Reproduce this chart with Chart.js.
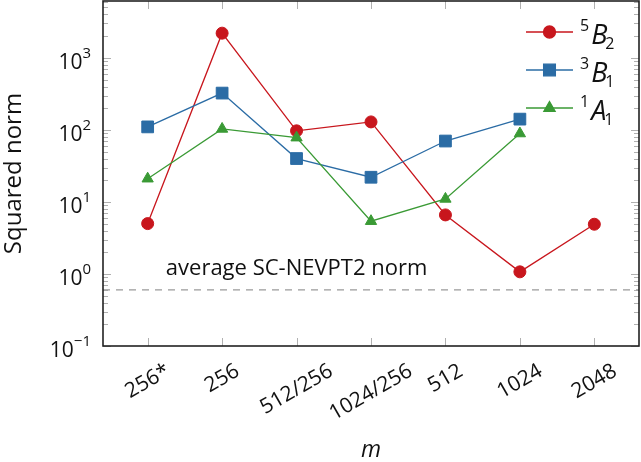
<!DOCTYPE html>
<html>
<head>
<meta charset="utf-8">
<script src="https://cdn.jsdelivr.net/npm/chart.js@4/dist/chart.umd.min.js"></script>
<style>
  html, body { margin: 0; padding: 0; background: #fff; }
  #wrap { width: 641px; height: 462px; }
</style>
</head>
<body>
<div id="wrap"><canvas id="chart"></canvas></div>
<script>
// values
const categories = ["256*", "256", "512/256", "1024/256", "512", "1024", "2048"];
const b2Values = [5.0, 2200, 97, 129, 6.6, 1.07, 4.9];
const b1Values = [110, 324, 40, 22, 70, 141, null];
const a1Values = [21, 103, 78, 5.4, 11, 89, null];
const avgNorm = 0.6;
const yTickValues = [0.1, 1, 10, 100, 1000];
const yTickExponents = ["\u22121", "0", "1", "2", "3"];

const FONT = '"Open Sans", sans-serif';
const RED = "#c8161d", BLUE = "#2b6ca5", GREEN = "#3a9a35";

function toPoints(vals) {
  return vals.map((v, i) => ({x: i, y: v}));
}

// legend: superscript, letter, subscript
const legendItems = [
  {sup: "5", letter: "B", sub: "2", color: RED, style: "circle", radius: 6},
  {sup: "3", letter: "B", sub: "1", color: BLUE, style: "rect", radius: 8.3},
  {sup: "1", letter: "A", sub: "1", color: GREEN, style: "triangle", radius: 6.5}
];

const decorPlugin = {
  id: "decor",
  beforeDatasetsDraw(chart) {
    const ctx = chart.ctx, a = chart.chartArea;
    const xs = chart.scales.x, ys = chart.scales.y;
    ctx.save();
    ctx.strokeStyle = "#b0b0b0";
    ctx.lineWidth = 1;
    // x ticks top and bottom
    categories.forEach((c, i) => {
      const px = Math.round(xs.getPixelForValue(i)) + 0.5;
      ctx.beginPath();
      ctx.moveTo(px, a.bottom); ctx.lineTo(px, a.bottom - 8);
      ctx.moveTo(px, a.top); ctx.lineTo(px, a.top + 8);
      ctx.stroke();
    });
    // y ticks (major + minor) left and right
    for (let e = -1; e <= 3; e++) {
      for (let m = 1; m <= 9; m++) {
        const v = m * Math.pow(10, e);
        if (v > ys.max) continue;
        const py = Math.round(ys.getPixelForValue(v)) + 0.5;
        const len = m === 1 ? 8 : 5;
        ctx.beginPath();
        ctx.moveTo(a.left, py); ctx.lineTo(a.left + len, py);
        ctx.moveTo(a.right, py); ctx.lineTo(a.right - len, py);
        ctx.stroke();
      }
    }
    ctx.restore();
  },
  afterDatasetsDraw(chart) {
    const ctx = chart.ctx, a = chart.chartArea;
    const xs = chart.scales.x, ys = chart.scales.y;
    ctx.save();
    // frame
    ctx.strokeStyle = "#222";
    ctx.lineWidth = 1.6;
    ctx.strokeRect(a.left, a.top, a.right - a.left, a.bottom - a.top);

    ctx.fillStyle = "#111";
    // y tick labels with superscripts
    yTickValues.forEach((v, i) => {
      const py = ys.getPixelForValue(v);
      ctx.font = "15px " + FONT;
      const ew = ctx.measureText(yTickExponents[i]).width;
      ctx.textAlign = "left";
      ctx.textBaseline = "alphabetic";
      const right = a.left - 12;
      ctx.fillText(yTickExponents[i], right - ew, py);
      ctx.font = "21px " + FONT;
      ctx.textAlign = "right";
      ctx.fillText("10", right - ew, py + 11);
    });

    // x tick labels, rotated, centered under tick
    ctx.font = "21px " + FONT;
    categories.forEach((c, i) => {
      const px = xs.getPixelForValue(i);
      const w = ctx.measureText(c).width;
      const cy = a.bottom + 17 + (w * 0.5 + 15 * 0.866) / 2;
      ctx.save();
      ctx.translate(px, cy);
      ctx.rotate(-Math.PI / 6);
      ctx.textAlign = "center";
      ctx.textBaseline = "middle";
      ctx.fillText(c, 0, 0);
      ctx.restore();
    });

    // axis titles
    ctx.font = "24px " + FONT;
    ctx.save();
    ctx.translate(14, (a.top + a.bottom) / 2);
    ctx.rotate(-Math.PI / 2);
    ctx.textAlign = "center";
    ctx.textBaseline = "middle";
    ctx.fillText("Squared norm", 0, 0);
    ctx.restore();
    ctx.font = "italic 23px " + FONT;
    ctx.textAlign = "center";
    ctx.textBaseline = "alphabetic";
    ctx.fillText("m", (a.left + a.right) / 2, 457);

    // annotation
    ctx.font = "22px " + FONT;
    ctx.fillText("average SC-NEVPT2 norm", xs.getPixelForValue(2), ys.getPixelForValue(1) + 1);

    // legend
    legendItems.forEach((it, k) => {
      const y = a.top + 31 + k * 38;
      ctx.strokeStyle = it.color;
      ctx.fillStyle = it.color;
      ctx.lineWidth = 1.3;
      ctx.beginPath();
      ctx.moveTo(526, y); ctx.lineTo(573, y);
      ctx.stroke();
      Chart.helpers.drawPoint(ctx, {pointStyle: it.style, radius: it.radius, rotation: 0, borderWidth: 1}, 549.5, y);
      ctx.fillStyle = "#111";
      ctx.textAlign = "left";
      ctx.textBaseline = "alphabetic";
      ctx.font = "16px " + FONT;
      ctx.fillText(it.sup, 580, y - 1);
      const sw = ctx.measureText(it.sup).width;
      ctx.font = "italic 27px " + FONT;
      ctx.fillText(it.letter, 582 + sw, y + 12);
      const lw = ctx.measureText(it.letter).width;
      ctx.font = "16px " + FONT;
      ctx.fillText(it.sub, 582 + sw + lw - 2, y + 17);
    });
    ctx.restore();
  }
};

function series(vals, color, style, radius) {
  return {
    data: toPoints(vals),
    borderColor: color,
    backgroundColor: color,
    borderWidth: 1.3,
    pointStyle: style,
    pointRadius: radius,
    pointBorderWidth: 1,
    pointBorderColor: color,
    pointBackgroundColor: color,
    spanGaps: false,
    tension: 0
  };
}

new Chart(document.getElementById("chart"), {
  type: "line",
  data: {
    datasets: [
      {
        data: [{x: -0.6, y: avgNorm}, {x: categories.length - 0.4, y: avgNorm}],
        borderColor: "#9a9a9a",
        borderWidth: 1.2,
        borderDash: [7, 6],
        pointRadius: 0
      },
      series(a1Values, GREEN, "triangle", 6.5),
      series(b1Values, BLUE, "rect", 8.3),
      series(b2Values, RED, "circle", 6)
    ]
  },
  options: {
    responsive: true,
    maintainAspectRatio: false,
    animation: false,
    layout: {autoPadding: false, padding: {top: 1, right: 2, left: 0, bottom: 0}},
    plugins: {legend: {display: false}, tooltip: {enabled: false}},
    scales: {
      x: {
        type: "linear",
        min: -0.6,
        max: categories.length - 0.4,
        grid: {display: false},
        border: {display: false},
        ticks: {display: false},
        afterFit: s => { s.height = 116; }
      },
      y: {
        type: "logarithmic",
        min: 0.1,
        max: 6150,
        grid: {display: false},
        border: {display: false},
        ticks: {display: false},
        afterFit: s => { s.width = 103; }
      }
    }
  },
  plugins: [decorPlugin]
});
</script>
</body>
</html>
